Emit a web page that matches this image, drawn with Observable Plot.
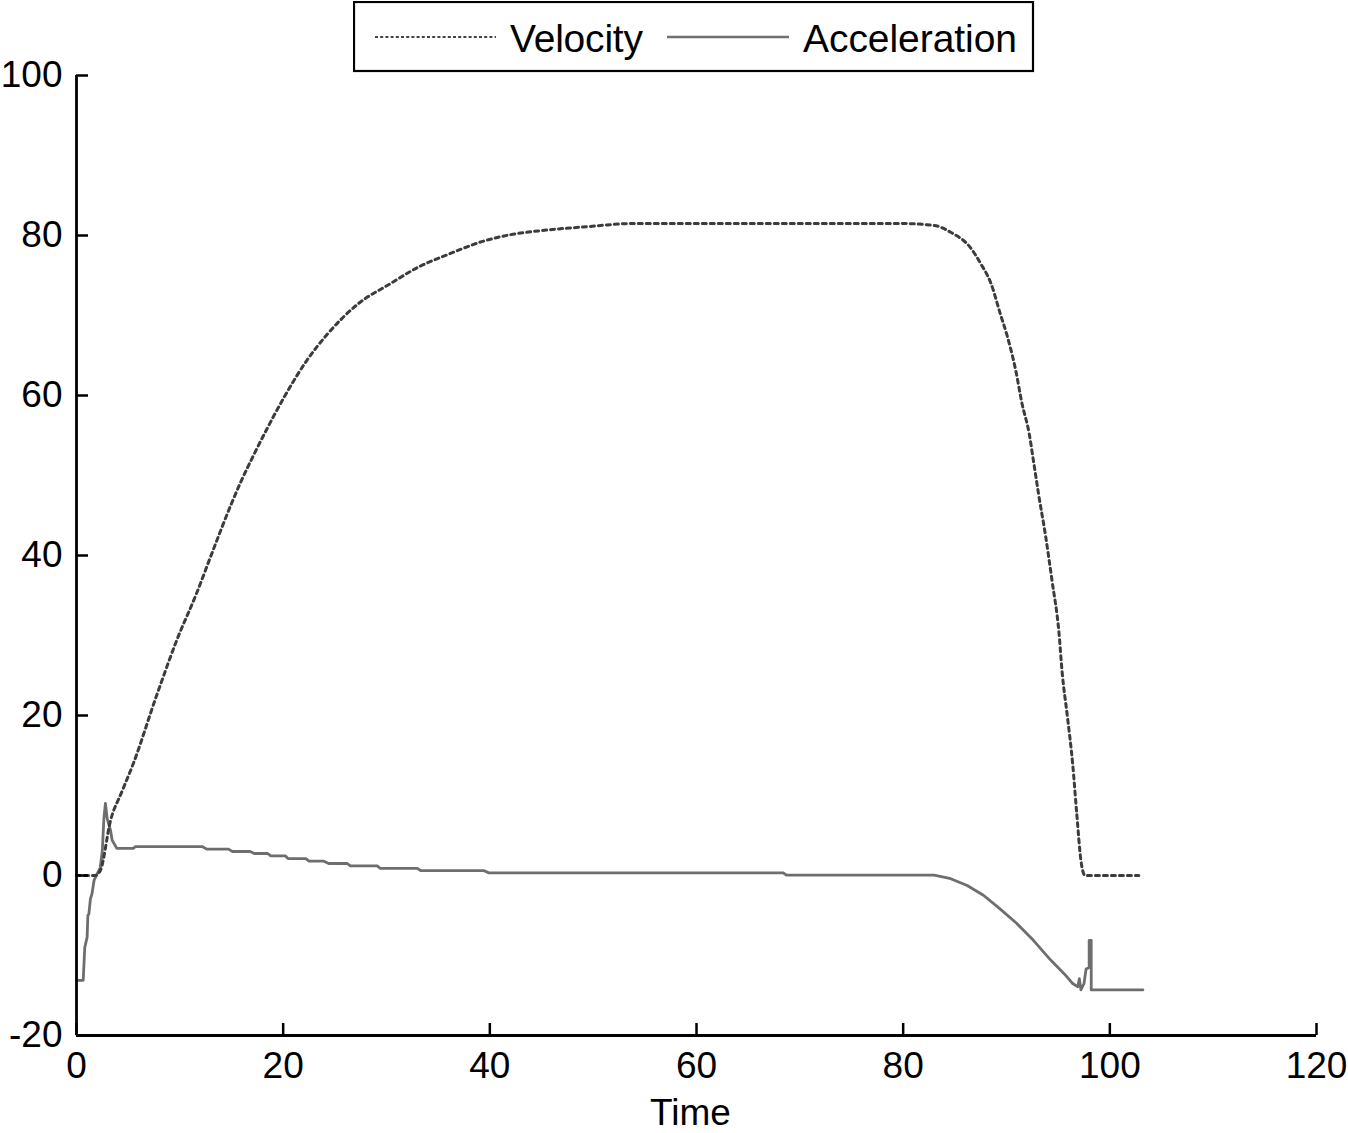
<!DOCTYPE html>
<html>
<head>
<meta charset="utf-8">
<script src="https://cdn.jsdelivr.net/npm/d3@7"></script>
<script src="https://cdn.jsdelivr.net/npm/@observablehq/plot@0.6"></script>
<style>
  html, body { margin: 0; padding: 0; background: #fff; }
  #wrap { position: relative; width: 1348px; height: 1133px; overflow: hidden; }
  #legend { position: absolute; left: 353px; top: 1px; }
  #chart { position: absolute; left: 0; top: 0; }
</style>
</head>
<body>
<div id="wrap">
  <div id="chart"></div>
  <svg id="legend" width="682" height="72" font-family="'Liberation Sans', Arial, sans-serif">
    <rect x="1" y="1" width="679" height="69" fill="#fff" stroke="#000" stroke-width="2.2"></rect>
    <line x1="22" x2="143" y1="36" y2="36" stroke="#444" stroke-width="2" stroke-dasharray="3,2.2"></line>
    <text x="157" y="51" font-size="39" fill="#000" textLength="133">Velocity</text>
    <line x1="314" x2="436" y1="36" y2="36" stroke="#707070" stroke-width="2.6"></line>
    <text x="450" y="51" font-size="39" fill="#000" textLength="214">Acceleration</text>
  </svg>
</div>
<script>
// Velocity series
const velT = [0, 1.8, 2.3, 3.3, 4.4, 5.5, 7.7, 9.7, 11.6, 13.2, 15.0, 15.9, 17.2, 18.5, 20.1, 22.3, 24.3, 27.2, 30.4, 33.0, 35.9, 39.4, 42.0, 44.9, 49.4, 53.9, 60, 70, 79.7, 83.0, 84.6, 86.5, 87.5, 88.5, 89.4, 90.1, 90.9, 91.5, 92.2, 92.6, 93.1, 93.8, 94.4, 95.06, 95.4, 95.9, 96.4, 96.8, 97.2, 97.6, 102.8];
const velV = [0, 0, 0.6, 6.9, 10.5, 14, 22.3, 29.4, 35.2, 40.6, 46.5, 49.2, 52.7, 56, 59.8, 64.4, 67.7, 71.4, 74.0, 76.0, 77.6, 79.3, 80.1, 80.6, 81.1, 81.5, 81.5, 81.5, 81.5, 81.25, 80.4, 78.5, 76.5, 74, 70.2, 67.3, 63.1, 59, 55.2, 51.9, 47.7, 42.3, 36.9, 30.6, 25.2, 19.8, 14, 7.7, 1.9, 0, 0];

// Acceleration series
const accT = [0, 0.65, 0.8, 1.03, 1.1, 1.2, 1.35, 1.5, 1.7, 1.84, 2.3, 2.5, 2.65, 2.8, 2.97, 3.3, 3.45, 3.9, 5.5, 5.7, 12.2, 12.6, 14.7, 15.1, 16.8, 17.2, 18.5, 18.8, 20.2, 20.5, 22.2, 22.5, 23.9, 24.4, 26.2, 26.5, 29.1, 29.4, 33.0, 33.3, 39.4, 39.9, 68.4, 68.7, 83.0, 84.6, 86.2, 87.8, 89.4, 91.0, 92.6, 94.3, 95.6, 96.4, 96.9, 97.05, 97.2, 97.5, 97.7, 98.0, 98.0, 98.2, 98.2, 103.2];
const accV = [-13.1, -13.1, -9.0, -7.7, -5.0, -4.8, -2.9, -2.3, -0.6, -0.2, 1.0, 3.1, 7.1, 9.0, 7.1, 5.6, 4.4, 3.4, 3.4, 3.6, 3.6, 3.3, 3.3, 3.0, 3.0, 2.75, 2.75, 2.45, 2.45, 2.1, 2.1, 1.8, 1.8, 1.5, 1.5, 1.2, 1.2, 0.9, 0.9, 0.62, 0.62, 0.33, 0.33, 0.04, 0.04, -0.4, -1.25, -2.5, -4.2, -6.0, -8.1, -10.6, -12.3, -13.5, -13.9, -12.9, -14.3, -13.5, -11.7, -11.5, -8.1, -8.1, -14.3, -14.3];

const xTicks = [0, 20, 40, 60, 80, 100, 120];
const yTicks = [-20, 0, 20, 40, 60, 80, 100];
const xLabel = "Time";

const velocity = velT.map((t, i) => ({t, v: velV[i]}));
const acceleration = accT.map((t, i) => ({t, v: accV[i]}));

const chart = Plot.plot({
  width: 1348,
  height: 1133,
  marginLeft: 76,
  marginRight: 32,
  marginTop: 75,
  marginBottom: 98,
  style: {fontFamily: "'Liberation Sans', Arial, sans-serif", fontSize: "36px", color: "#000", background: "transparent"},
  x: {domain: [0, 120]},
  y: {domain: [-20, 100]},
  marks: [
    Plot.line(acceleration, {x: "t", y: "v", stroke: "#6e6e6e", strokeWidth: 2.8, curve: "linear"}),
    Plot.line(velocity, {x: "t", y: "v", stroke: "#3c3c3c", strokeWidth: 3, strokeDasharray: "4,4", curve: "monotone-x"}),
    Plot.axisY(yTicks, {anchor: "left", tickSize: 12, dx: 12, tickFormat: () => "", label: null, stroke: "#000", strokeWidth: 2.5}),
    Plot.axisY(yTicks, {anchor: "left", tickSize: 0, tickPadding: 14, label: null, fontSize: 37, fill: "#000", tickFormat: d => String(d)}),
    Plot.axisX(xTicks, {anchor: "bottom", tickSize: 12, dy: -12, tickFormat: () => "", label: null, stroke: "#000", strokeWidth: 2.5}),
    Plot.axisX(xTicks, {anchor: "bottom", tickSize: 0, tickPadding: 16, label: null, fontSize: 37, fill: "#000", tickFormat: d => String(d)}),
    Plot.ruleX([0], {stroke: "#000", strokeWidth: 2.8}),
    Plot.ruleY([-20], {stroke: "#000", strokeWidth: 2.8}),
    Plot.text([xLabel], {frameAnchor: "bottom", dy: 89, fontSize: 37, fill: "#000", lineAnchor: "bottom", dx: -6})
  ]
});
document.getElementById("chart").appendChild(chart);
</script>
</body>
</html>
